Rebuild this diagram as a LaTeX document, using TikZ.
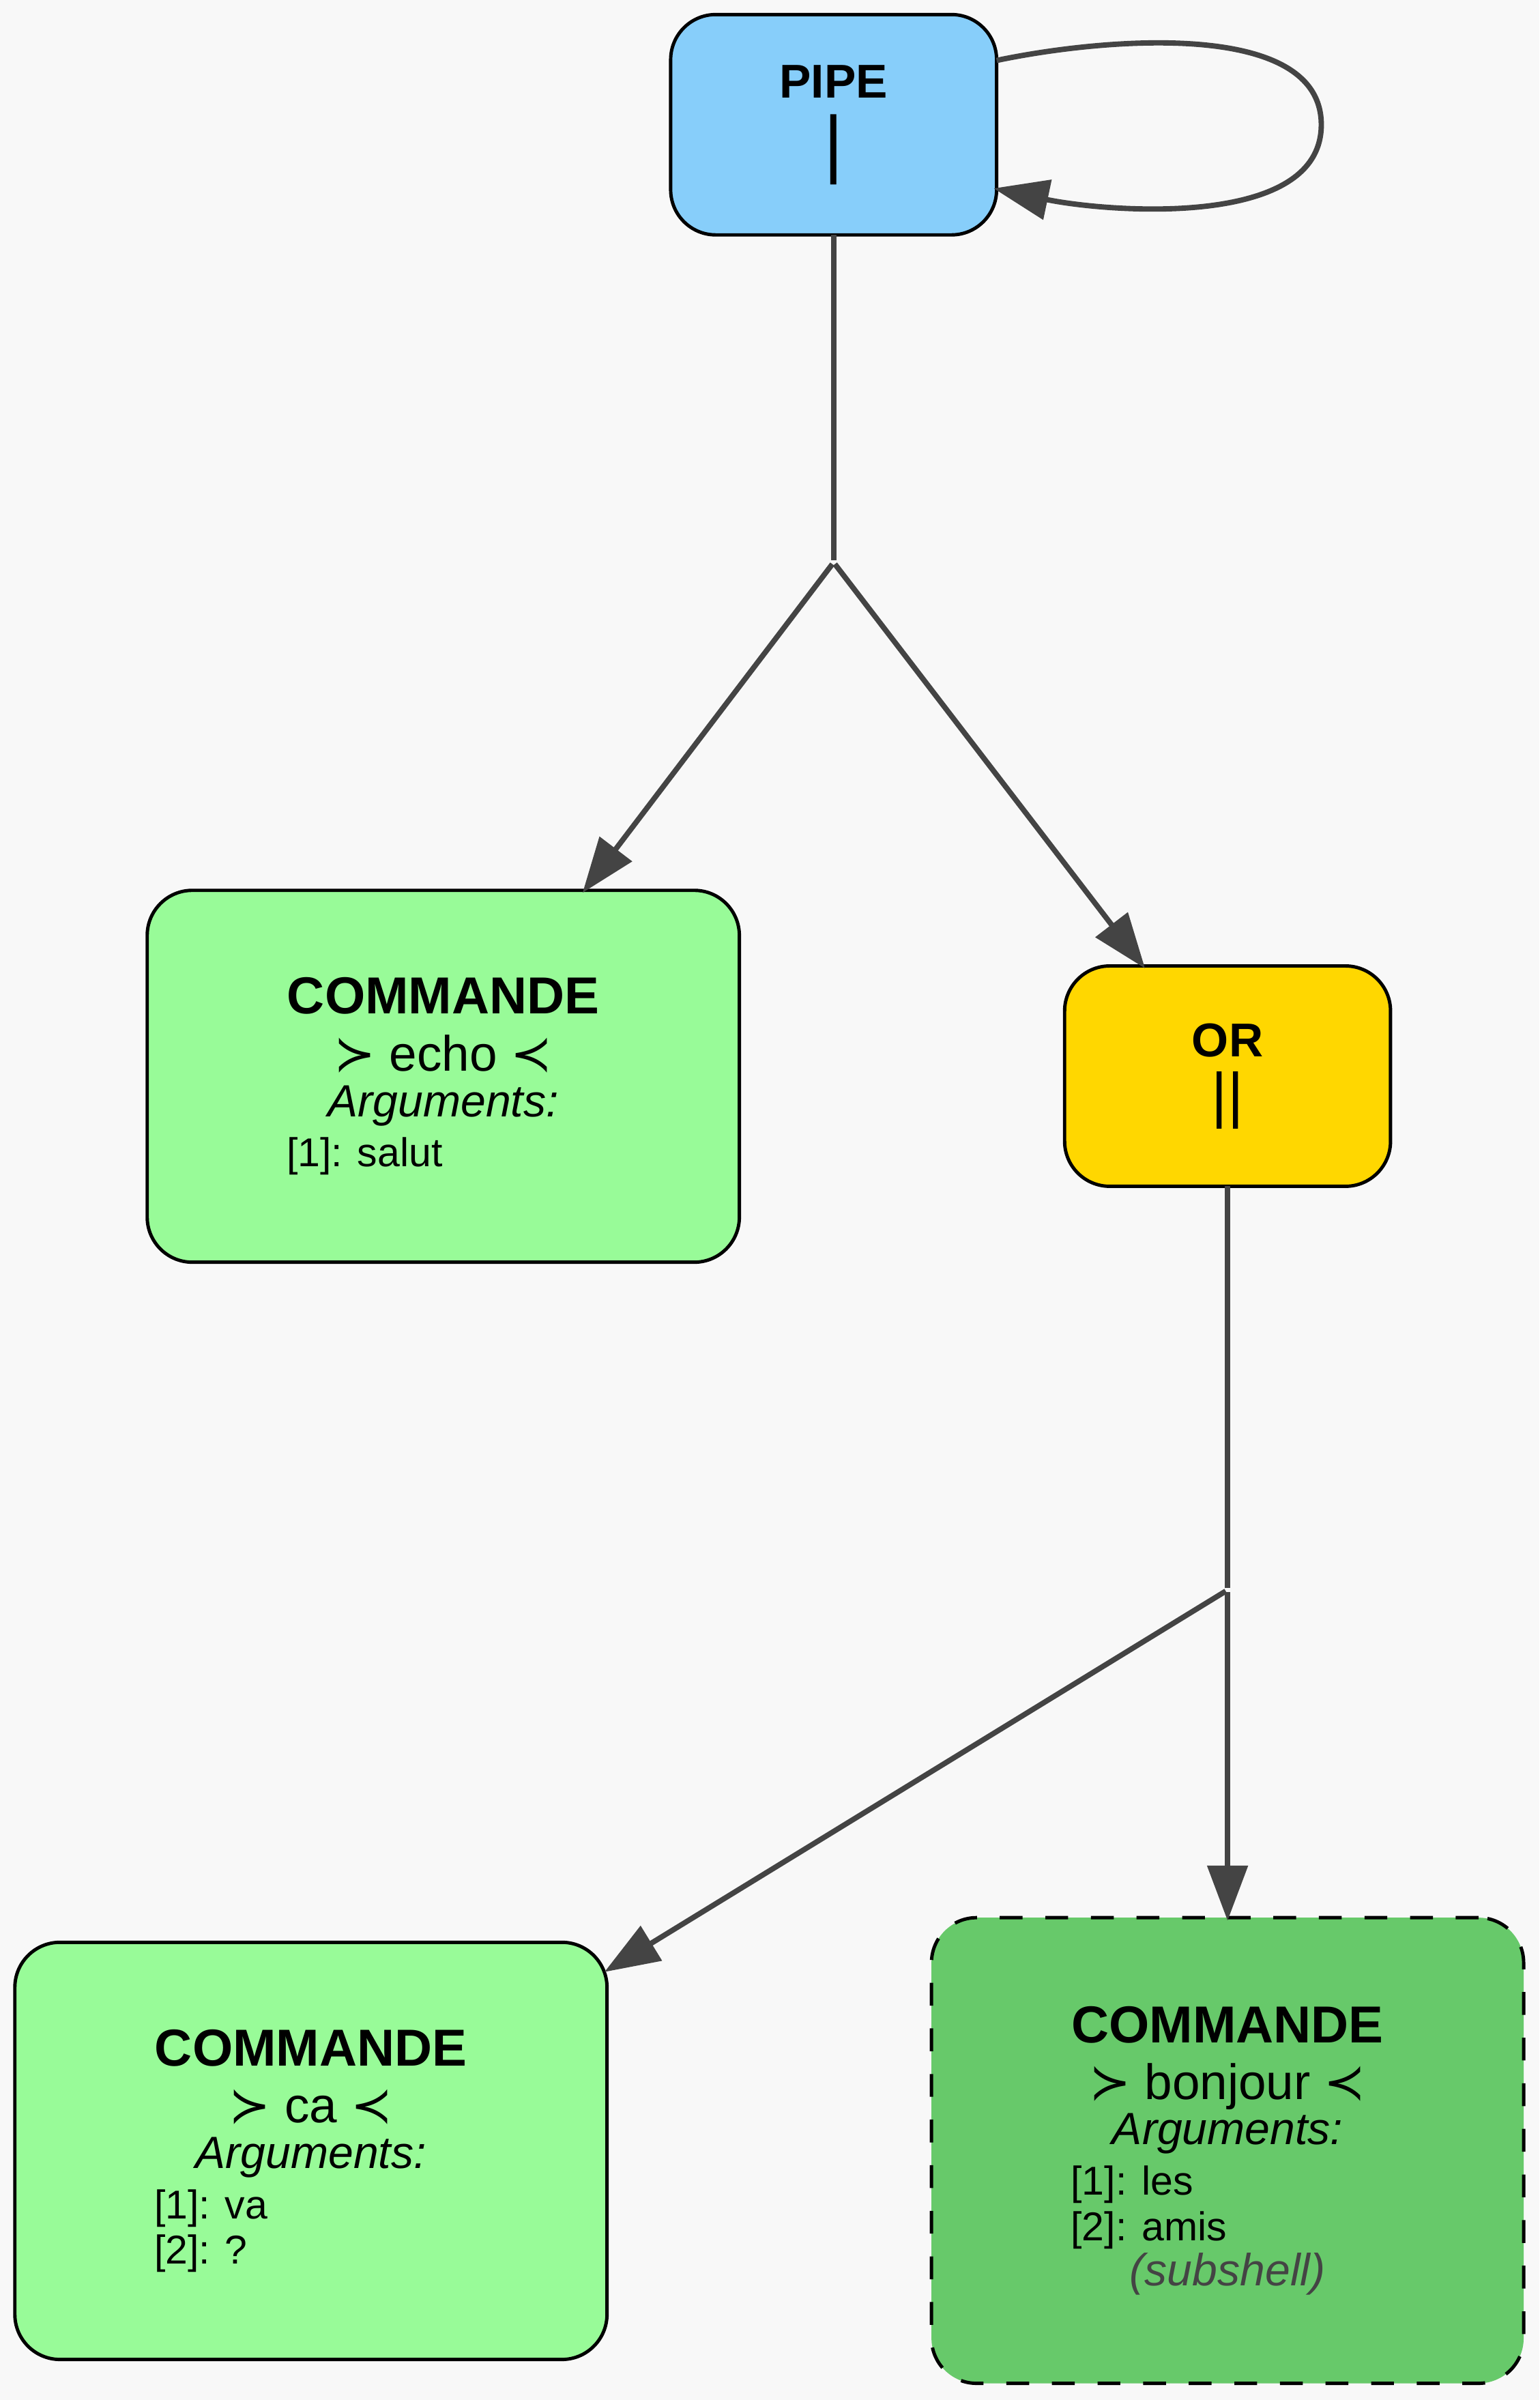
\documentclass[tikz,border=0pt]{standalone}
\usepackage{fontspec}
\setmainfont{Liberation Sans}
\newfontfamily\symfont{DejaVu Sans}
\usetikzlibrary{arrows.meta}
\definecolor{bgc}{HTML}{F8F8F8}
\definecolor{edgec}{HTML}{444444}
\definecolor{pipec}{HTML}{87CEFA}
\definecolor{orc}{HTML}{FFD700}
\definecolor{cmdc}{HTML}{98FB98}
\definecolor{subc}{RGB}{103,201,106}
\definecolor{subtxt}{HTML}{444444}
\begin{document}
\begin{tikzpicture}[x=1pt,y=-1pt,
  box/.style={draw=black, line width=2.2pt, rounded corners=29.5pt, inner sep=0pt, outer sep=0pt},
  opbox/.style={box, minimum width=213pt, minimum height=144pt},
  cmdbox/.style={box, fill=cmdc, minimum width=387pt},
  junction/.style={circle, inner sep=0pt, minimum size=2.4pt},
  edge/.style={draw=edgec, line width=3.5pt},
  arr/.style={edge, -{Triangle[length=36pt,width=26pt]}, shorten >=-2pt},
  txt/.style={inner sep=0pt, outer sep=0pt, anchor=base},
  argtxt/.style={inner sep=0pt, outer sep=0pt, anchor=base west, font=\fontsize{26.3}{30}\selectfont},
  optitle/.style={txt, font=\bfseries\fontsize{31}{34}\selectfont},
  cmdtitle/.style={txt, font=\bfseries\fontsize{34}{38}\selectfont},
  cmdname/.style={txt, font=\fontsize{32.5}{36}\selectfont},
  argshead/.style={txt, font=\itshape\fontsize{29.5}{33}\selectfont},
]
\useasboundingbox (0,0) rectangle (1006,1568.3);
\fill[bgc] (0,0) rectangle (1006,1568.3);

% boxes
\node[opbox, fill=pipec] (pipe) at (544.8,81.5) {};
\node[opbox, fill=orc] (or) at (802.25,703.2) {};
\node[cmdbox, minimum height=243pt] (echo) at (289.7,703.3) {};
\node[cmdbox, minimum height=272.6pt] (ca) at (203.2,1405.5) {};
\node[cmdbox, fill=subc, dashed, dash pattern=on 14.9pt off 14.9pt, minimum height=304.3pt] (bonjour) at (802.25,1405.25) {};

% junction points
\node[junction] (j1) at (544.8,367.5) {};
\node[junction] (j2) at (802.25,1039) {};

% texts: PIPE
\node[optitle] (pipet) at (544.8,64.2) {PIPE};
\node[txt, font=\fontsize{49}{52}\selectfont] (pipes) at (544.8,110.4) {|};
% OR
\node[optitle] (ort) at (802.25,690.6) {OR};
\node[txt, font=\fontsize{40}{44}\selectfont] (ors) at (802.25,729.2) {||};
% echo
\node[cmdtitle] (echot) at (289.7,662.4) {COMMANDE};
\node[cmdname] (echon) at (289.7,699.8) {{\symfont ≻} echo {\symfont ≺}};
\node[argshead] (echoa) at (289.7,729.6) {Arguments:};
\node[argtxt] (echo1) at (187.3,762.5) {[1]: salut};
% ca
\node[cmdtitle] (cat) at (203.2,1349.8) {COMMANDE};
\node[cmdname] (can) at (203.2,1387.2) {{\symfont ≻} ca {\symfont ≺}};
\node[argshead] (caa) at (203.2,1417.0) {Arguments:};
\node[argtxt] (ca1) at (100.8,1449.9) {[1]: va};
\node[argtxt] (ca2) at (100.8,1479.1) {[2]: ?};
% bonjour
\node[cmdtitle] (bjt) at (802.25,1334.9) {COMMANDE};
\node[cmdname] (bjn) at (802.25,1371.7) {{\symfont ≻} bonjour {\symfont ≺}};
\node[argshead] (bja) at (802.25,1401.3) {Arguments:};
\node[argtxt] (bj1) at (699.9,1434.5) {[1]: les};
\node[argtxt] (bj2) at (699.9,1464.2) {[2]: amis};
\node[argshead, text=subtxt] (bjs) at (802.25,1493.7) {(subshell)};

% edges
\draw[edge] (pipe) -- (j1);
\draw[arr] (j1) -- (echo);
\draw[arr] (j1) -- (or);
\draw[edge] (or) -- (j2);
\draw[arr] (j2) -- (ca);
\draw[arr] (j2) -- (bonjour);
\draw[arr] ([yshift=42pt]pipe.east) .. controls (720,25) and (863.5,12) .. (863.5,81.5)
  .. controls (863.5,151) and (720,138) .. ([yshift=-42pt]pipe.east);
\end{tikzpicture}
\end{document}
